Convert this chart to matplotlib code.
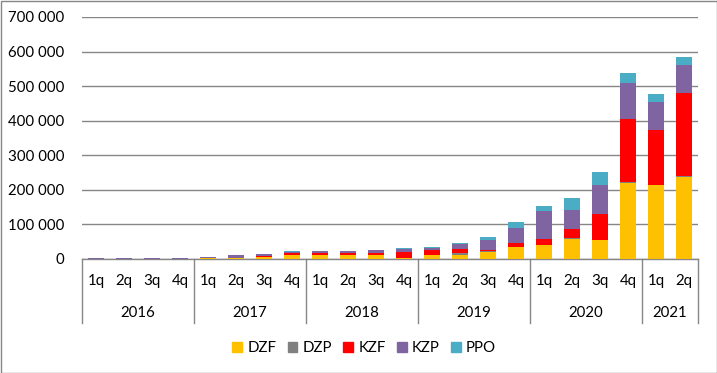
import matplotlib
matplotlib.use("Agg")
import matplotlib.pyplot as plt
from matplotlib.patches import Rectangle
from matplotlib.ticker import FuncFormatter
import matplotlib.transforms as mtransforms
import numpy as np

plt.rcParams['font.family'] = ['Lato', 'DejaVu Sans']

years = ["2016", "2017", "2018", "2019", "2020", "2021"]
quarters_per_year = [4, 4, 4, 4, 4, 2]
quarter_labels = ["1q", "2q", "3q", "4q"] * 5 + ["1q", "2q"]

series_names = ["DZF", "DZP", "KZF", "KZP", "PPO"]
DZF = [0, 0, 0, 0, 3000, 4000, 5000, 12000, 12000, 12000, 12000, 3000,
       12500, 12500, 21000, 35500, 41000, 59000, 56000, 220000, 214000, 237500]
DZP = [0, 0, 0, 0, 0, 0, 1000, 0, 0, 0, 0, 0,
       0, 5500, 1000, 0, 0, 2500, 0, 3000, 0, 2500]
KZF = [0, 0, 0, 0, 0, 0, 2000, 4000, 6000, 6000, 6000, 18000,
       14500, 12000, 5000, 11500, 18000, 26000, 75000, 182000, 159000, 240000]
KZP = [3000, 3000, 3000, 3000, 3000, 8000, 6000, 3000, 4000, 4000, 7000, 8000,
       6000, 14000, 29000, 43000, 80000, 54500, 83000, 104000, 81000, 80500]
PPO = [0, 0, 0, 0, 0, 0, 0, 3000, 2000, 2000, 2000, 3000,
       2500, 3000, 8000, 18000, 15000, 35000, 38000, 28500, 23000, 25000]
colors = ["#FFC000", "#808080", "#FF0000", "#8064A2", "#4BACC6"]

fig = plt.figure(figsize=(7.17, 3.73), dpi=100)
ax = fig.add_axes([82/717, 1-259/373, (698-82)/717, (259-17)/373])

x = np.arange(len(quarter_labels))
bottom = np.zeros(len(x))
for name, vals, c in zip(series_names, [DZF, DZP, KZF, KZP, PPO], colors):
    ax.bar(x, vals, 0.57, bottom=bottom, color=c, label=name, zorder=3)
    bottom += np.array(vals)

grid_c = "#868686"
ax.set_ylim(0, 700000)
ax.set_xlim(-0.5, len(x)-0.5)
ax.set_yticks(np.arange(0, 700001, 100000))
ax.yaxis.set_major_formatter(FuncFormatter(lambda v, p: f"{int(v):,}".replace(",", " ")))
ax.grid(axis='y', color=grid_c, linewidth=1, zorder=0)
for s in ['top', 'right', 'left']:
    ax.spines[s].set_visible(False)
ax.spines['bottom'].set_color(grid_c)
ax.spines['bottom'].set_linewidth(1)
ax.tick_params(axis='y', length=0, pad=12.5, labelsize=10.8, colors='black')
ax.set_xticks(x)
ax.set_xticklabels(quarter_labels)
ax.tick_params(axis='x', length=0, pad=11, labelsize=10.8)

# year labels and separators
trans = mtransforms.blended_transform_factory(ax.transData, ax.transAxes)
sep_bottom = (259-323)/242
start = 0
bounds = [-0.5]
for yr, n in zip(years, quarters_per_year):
    center = start + (n-1)/2
    ax.text(center, (259-313)/242, yr, transform=trans, ha='center', va='center', fontsize=10.8)
    start += n
    bounds.append(start-0.5)
for b in bounds:
    ax.plot([b, b], [0, sep_bottom], transform=trans, color=grid_c, linewidth=1, clip_on=False)

# legend
handles = [Rectangle((0, 0), 1, 1, color=c) for c in colors]
fig.legend(handles, series_names, loc='center', bbox_to_anchor=(0.508, 1-348/373), ncol=5,
           frameon=False, fontsize=10.8, handlelength=0.65, handleheight=0.65,
           handletextpad=0.35, columnspacing=0.75)

# figure border
fig.patches.append(Rectangle((0.5/717, 0.5/373), 1-1/717, 1-1/373, transform=fig.transFigure,
                             fill=False, edgecolor=grid_c, linewidth=1))

fig.savefig("out.png", dpi=100)
